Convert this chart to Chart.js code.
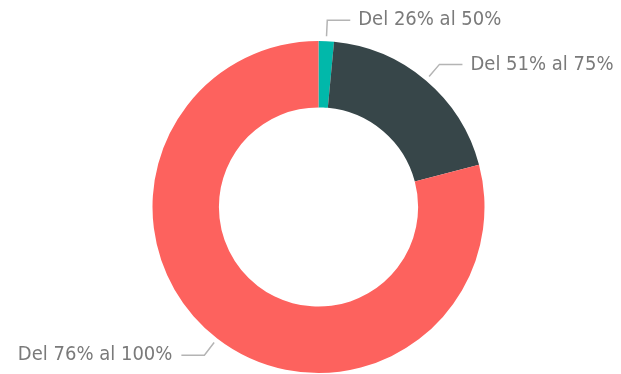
<!DOCTYPE html>
<html>
<head>
<meta charset="utf-8">
<script src="https://cdn.jsdelivr.net/npm/chart.js@4/dist/chart.umd.min.js"></script>
<style>
  html, body { margin: 0; padding: 0; background: #ffffff; }
  #wrap { width: 621px; height: 374px; position: relative; }
</style>
</head>
<body>
<div id="wrap"><canvas id="chart"></canvas></div>
<script>
// Range buckets and their counts
const categories = ["Del 26% al 50%", "Del 51% al 75%", "Del 76% al 100%"];
const counts = [2, 26, 106];
const sliceColors = ["#01B8AA", "#374649", "#FD625E"];

// Outside labels with two-segment leader lines (radial, then horizontal)
const leaderLabels = {
  id: "leaderLabels",
  afterDatasetsDraw(chart) {
    const ctx = chart.ctx;
    const meta = chart.getDatasetMeta(0);
    ctx.save();
    ctx.font = '20px "DejaVu Sans Condensed", "DejaVu Sans", sans-serif';
    ctx.textBaseline = "middle";
    meta.data.forEach((arc, i) => {
      const p = arc.getProps(["x", "y", "startAngle", "endAngle", "outerRadius"], true);
      const mid = (p.startAngle + p.endAngle) / 2;
      const cos = Math.cos(mid), sin = Math.sin(mid);
      const r1 = p.outerRadius + 5;
      const r2 = p.outerRadius + 21;
      const x1 = p.x + cos * r1, y1 = p.y + sin * r1;
      const x2 = p.x + cos * r2, y2 = p.y + sin * r2;
      const right = cos >= 0;
      const x3 = x2 + (right ? 23 : -23);
      ctx.strokeStyle = "#b4b4b4";
      ctx.lineWidth = 1.5;
      ctx.beginPath();
      ctx.moveTo(x1, y1);
      ctx.lineTo(x2, y2);
      ctx.lineTo(x3, y2);
      ctx.stroke();
      ctx.fillStyle = "#7a7a7a";
      ctx.textAlign = right ? "left" : "right";
      ctx.fillText(chart.data.labels[i], x3 + (right ? 8 : -9), y2);
    });
    ctx.restore();
  }
};

new Chart(document.getElementById("chart"), {
  type: "doughnut",
  data: {
    labels: categories,
    datasets: [{
      data: counts,
      backgroundColor: sliceColors,
      borderWidth: 0,
      hoverOffset: 0
    }]
  },
  options: {
    responsive: true,
    maintainAspectRatio: false,
    animation: false,
    cutout: "60%",
    layout: { padding: { top: 41, bottom: 1, left: 16, right: 0 } },
    plugins: {
      legend: { display: false },
      tooltip: { enabled: false }
    }
  },
  plugins: [leaderLabels]
});
</script>
</body>
</html>
